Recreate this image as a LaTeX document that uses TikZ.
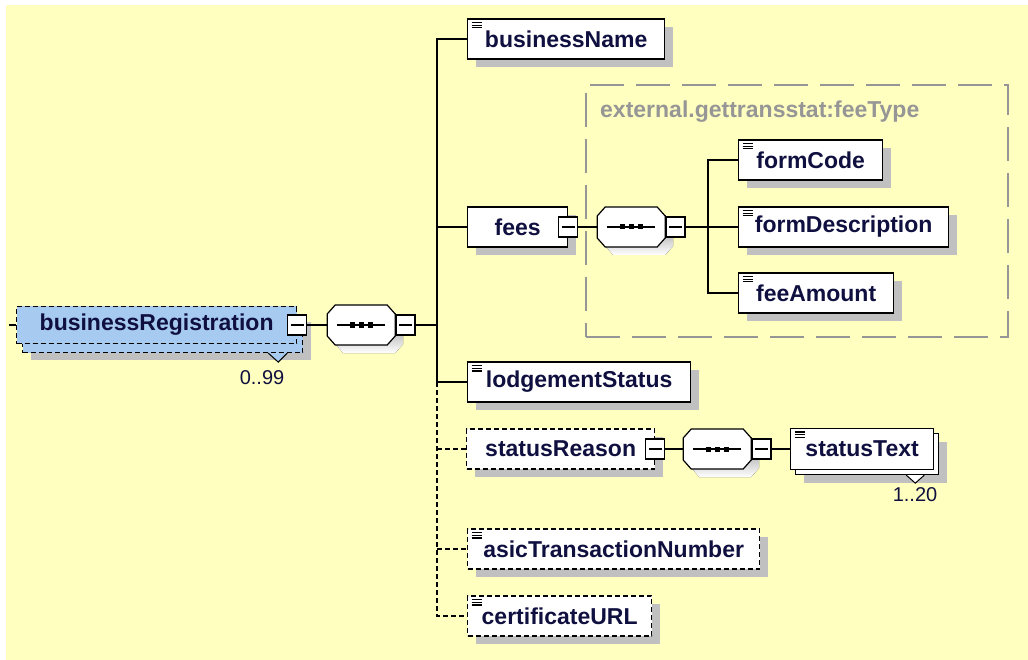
\documentclass[tikz,border=0pt]{standalone}
\usepackage{fontspec}
\setmainfont{Liberation Sans}
\usetikzlibrary{shadows}

\definecolor{paper}{RGB}{255,255,192}
\definecolor{ink}{RGB}{16,16,64}
\definecolor{shade}{RGB}{192,192,192}
\definecolor{rootblue}{RGB}{166,202,240}
\definecolor{frame}{RGB}{150,150,150}

\tikzset{
  box/.style={draw=black, line width=1.3pt, fill=white, minimum height=40pt, inner sep=2pt,
    font=\fontsize{23}{27}\selectfont\bfseries, text=ink},
  shadowed/.style={drop shadow={shadow xshift=8pt, shadow yshift=-8pt, fill=shade, opacity=1}},
  elem/.style={box, shadowed},
  optional/.style={dash pattern=on 5pt off 3pt},
  rootstack/.style={
    drop shadow={shadow xshift=14pt, shadow yshift=-16pt, fill=shade, opacity=1},
    general shadow={shadow xshift=6pt, shadow yshift=-9pt, draw=black, fill=rootblue,
      line width=1.3pt, dash pattern=on 5pt off 3pt}},
  textstack/.style={
    drop shadow={shadow xshift=13pt, shadow yshift=-13pt, fill=shade, opacity=1},
    general shadow={shadow xshift=5pt, shadow yshift=-5pt, draw=black, fill=white, line width=1.3pt}},
  leaf/.style={path picture={
    \foreach \d in {3.5,6.2,8.9}
      \draw[solid, line width=1.2pt] ([shift={(4pt,-\d pt)}]path picture bounding box.north west) -- ++(10pt,0pt);}},
  minus/.style={draw=black, line width=1.2pt, fill=white, minimum width=19pt, minimum height=20pt,
    inner sep=0pt,
    path picture={\draw[line width=1.2pt] ([xshift=-6.5pt]path picture bounding box.center)
      -- ([xshift=6.5pt]path picture bounding box.center);}},
  seqbox/.style={minimum width=68pt, minimum height=40pt, inner sep=0pt},
  link/.style={line width=1.2pt},
  notch/.style={line width=1pt},
  mult/.style={font=\fontsize{20}{24}\selectfont, text=ink, inner sep=0pt},
  typeframe/.style={draw=frame, line width=1.5pt, dash pattern=on 34pt off 12pt},
  typelabel/.style={font=\fontsize{23}{27}\selectfont\bfseries, text=frame, inner sep=0pt},
}

% octagon of a sequence compositor, drawn round the node #1
\newcommand\seqsymbol[1]{%
  \fill[shade, shift={(#1.center)}, xshift=8pt, yshift=-8pt]
    (-26,-20) -- (26,-20) -- (34,-11) -- (34,11) -- (26,20) -- (-26,20) -- (-34,11) -- (-34,-11) -- cycle;
  \filldraw[fill=white, line width=1.2pt, shift={(#1.center)}]
    (-26,-20) -- (26,-20) -- (34,-11) -- (34,11) -- (26,20) -- (-26,20) -- (-34,11) -- (-34,-11) -- cycle;
  \draw[line width=1.2pt, shift={(#1.center)}] (-24,0) -- (24,0);
  \foreach \d in {-9,0,9}
    \fill[shift={(#1.center)}] (\d-2.5,-2.5) rectangle ++(5,5);
}

\begin{document}
\begin{tikzpicture}[x=1pt, y=-1pt]
\useasboundingbox (0,0) rectangle (1028,660);
\fill[paper] (6,5) rectangle (1028,660);

% the complex type box
\node[typeframe, minimum width=422pt, minimum height=252pt] (feeType) at (797,211) {};
\node[typelabel, anchor=west] (feeTypeLbl) at (600,112) {external.gettransstat:feeType};

% root element
\coordinate (stub) at (9,325);
\node[box, optional, fill=rootblue, minimum width=280pt, minimum height=37pt, anchor=west,
  rootstack] (busReg) at (16,325) {businessRegistration};
\filldraw[notch, fill=rootblue] ([shift={(-29pt,-9pt)}]busReg.south east) -- ([shift={(-19pt,-18pt)}]busReg.south east)
  -- ([shift={(-10pt,-9pt)}]busReg.south east);
\node[mult] (busRegMult) at (262,378) {0..99};
\node[minus] (busRegM) at (busReg.east) {};

\node[seqbox, anchor=west] (seqA) at (327,325) {};
\seqsymbol{seqA}
\node[minus, anchor=west] (seqAM) at (seqA.east) {};
\coordinate (trunkA) at (437,325);

% children of businessRegistration
\node[elem, leaf, anchor=west, minimum width=197pt] (busName) at (467,39) {businessName};
\node[elem, anchor=west, minimum width=100pt] (fees) at (467,227) {fees};
\node[minus] (feesM) at (fees.east) {};
\node[elem, leaf, anchor=west, minimum width=223pt] (lodge) at (467,382) {lodgementStatus};
\node[elem, optional, anchor=west, minimum width=188pt] (statReason) at (466,449) {statusReason};
\node[minus] (statReasonM) at (statReason.east) {};
\node[elem, leaf, optional, anchor=west, minimum width=292pt] (asic) at (467,549) {asicTransactionNumber};
\node[elem, leaf, optional, anchor=west, minimum width=184pt] (certURL) at (467,616) {certificateURL};

% fees content
\node[seqbox, anchor=west] (seqB) at (597,227) {};
\seqsymbol{seqB}
\node[minus, anchor=west] (seqBM) at (seqB.east) {};
\coordinate (trunkB) at (708,227);
\node[elem, leaf, anchor=west, minimum width=144pt] (formCode) at (738,160) {formCode};
\node[elem, leaf, anchor=west, minimum width=210pt] (formDesc) at (738,227) {formDescription};
\node[elem, leaf, anchor=west, minimum width=155pt] (feeAmt) at (738,293) {feeAmount};

% statusReason content
\node[seqbox, anchor=west] (seqC) at (683,449) {};
\seqsymbol{seqC}
\node[minus, anchor=west] (seqCM) at (seqC.east) {};
\node[box, leaf, textstack, anchor=west, minimum width=143pt, minimum height=41pt]
  (statText) at (790,449) {statusText};
\filldraw[notch, fill=white] ([shift={(-28pt,-5pt)}]statText.south east) -- ([shift={(-19pt,-13pt)}]statText.south east)
  -- ([shift={(-10pt,-5pt)}]statText.south east);
\node[mult] (statTextMult) at (915,495) {1..20};

% connectors
\draw[link] (stub) -- (busReg.west);
\draw[link] (busRegM) -- (seqA);
\draw[link] (seqAM.east) -- (trunkA);
\draw[link] (busName.west) -| (trunkA |- lodge.west) -- (lodge.west);
\draw[link] (fees.west) -- (trunkA |- fees.west);
\draw[link, optional] (trunkA |- lodge.west) |- (certURL.west);
\draw[link, optional] (trunkA |- statReason.west) -- (statReason.west);
\draw[link, optional] (trunkA |- asic.west) -- (asic.west);
\draw[link] (feesM) -- (seqB);
\draw[link] (seqBM.east) -- (trunkB);
\draw[link] (formCode.west) -| (trunkB |- feeAmt.west) -- (feeAmt.west);
\draw[link] (trunkB) -- (formDesc.west);
\draw[link] (statReasonM) -- (seqC);
\draw[link] (seqCM) -- (statText);
\end{tikzpicture}
\end{document}
